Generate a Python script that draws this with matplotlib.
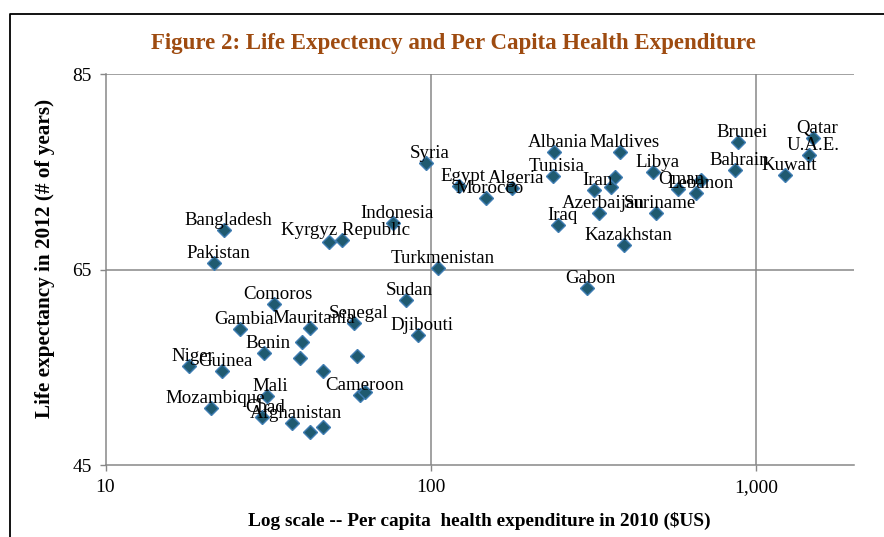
import numpy as np
import matplotlib
matplotlib.use("Agg")
import matplotlib.pyplot as plt
from matplotlib.lines import Line2D

plt.rcParams['font.family'] = ['Liberation Serif', 'DejaVu Serif']

# data (x: $US per capita 2010, y: years)
countries = ["Bangladesh", "Pakistan", "", "Kyrgyz Republic", "Indonesia",
             "Turkmenistan", "Comoros", "Sudan", "Senegal", "Djibouti",
             "Gambia", "Mauritania", "", "Benin", "", "", "Niger", "Guinea",
             "", "Cameroon", "", "Mali", "Mozambique", "Chad", "Afghanistan",
             "", "", "Syria", "Egypt", "Morocco", "Algeria", "Albania",
             "Tunisia", "Iran", "", "", "Maldives", "Azerbaijan", "Iraq",
             "Kazakhstan", "Gabon", "Libya", "Suriname", "Oman", "Lebanon",
             "", "Brunei", "Bahrain", "Kuwait", "Qatar", "U.A.E."]
spend = [23.2, 21.6, 48.8, 53.2, 76.7,
         105.5, 33.0, 83.8, 58.3, 91.2,
         25.9, 42.5, 40.3, 30.8, 39.6, 59.4, 18.1, 22.8,
         46.5, 60.7, 63.0, 31.3, 21.1, 30.2, 37.4,
         42.5, 46.7, 96.5, 122.2, 147.8, 177.8, 239.9,
         237.6, 317.2, 358.4, 369.0, 383.5, 330.4, 246.9,
         393.1, 302.0, 484.2, 494.0, 574.8, 655.4,
         679.5, 881.8, 865.8, 1229.0, 1502.0, 1460.0]
life = [69.1, 65.7, 67.8, 68.0, 69.8,
        65.2, 61.5, 61.9, 59.5, 58.3,
        58.9, 59.0, 57.6, 56.5, 56.0, 56.2, 55.2, 54.6,
        54.6, 52.2, 52.5, 52.1, 50.9, 49.9, 49.3,
        48.4, 48.9, 75.9, 73.5, 72.3, 73.3, 77.0,
        74.6, 73.1, 73.4, 74.5, 77.0, 70.8, 69.6,
        67.5, 63.1, 75.0, 70.8, 73.2, 72.8,
        74.2, 78.0, 75.2, 74.7, 78.5, 76.7]
x_ticks = [10, 100, 1000]
x_tick_labs = ["10", "100", "1,000"]
y_ticks = [45, 65, 85]

grid_col = "#878787"

fig = plt.figure(figsize=(8.84, 5.37), dpi=100)
ax = fig.add_axes([105.5 / 884, 1 - 465.3 / 537, (853.7 - 105.5) / 884, (465.3 - 74) / 537])

ax.set_xscale("log")
ax.set_xlim(10, 2000)
ax.set_ylim(45, 85)

for x in [100, 1000]:
    ax.axvline(x, color=grid_col, lw=1.1, zorder=1)
for y in [65, 85]:
    ax.axhline(y, color=grid_col, lw=1.1, zorder=1)

ax.plot(spend, life, linestyle="none", marker="D", markersize=7.2,
        markerfacecolor="#1f5a70", markeredgecolor="#3f7db3", markeredgewidth=1.0,
        zorder=3)

for name, x, y in zip(countries, spend, life):
    if not name:
        continue
    ax.annotate(name, (x, y), xytext=(4, 5), textcoords="offset pixels",
                ha="center", va="baseline", fontsize=13.6, color="black", zorder=4)

for s in ["top", "right"]:
    ax.spines[s].set_visible(False)
for s in ["left", "bottom"]:
    ax.spines[s].set_color(grid_col)
    ax.spines[s].set_linewidth(1.1)

ax.set_xticks(x_ticks)
ax.set_xticklabels(x_tick_labs)
ax.xaxis.set_minor_locator(matplotlib.ticker.NullLocator())
ax.set_yticks(y_ticks)
ax.tick_params(axis="both", which="major", direction="out", length=4, width=1,
               color=grid_col, labelsize=14, pad=6)

# axis titles placed where the reference has them
fig.text(479.5 / 884, 1 - 521 / 537,
         "Log scale -- Per capita  health expenditure in 2010 ($US)",
         ha="center", va="center", fontsize=13.9, fontweight="bold")
fig.text(45 / 884, 1 - 258 / 537, "Life expectancy in 2012 (# of years)",
         ha="center", va="center", rotation=90, fontsize=15.3, fontweight="bold")

fig.text(453 / 884, 1 - 44 / 537, "Figure 2: Life Expectency and Per Capita Health Expenditure",
         ha="center", va="center", fontsize=16.5, fontweight="bold", color="#9e4b10")

# outer frame (left and top edges visible in the reference)
fig.add_artist(Line2D([10 / 884, 10 / 884, 1.0], [0.0, 1 - 14 / 537, 1 - 14 / 537],
                      transform=fig.transFigure, color="black", lw=1.3))

fig.savefig("out.png", dpi=100)
